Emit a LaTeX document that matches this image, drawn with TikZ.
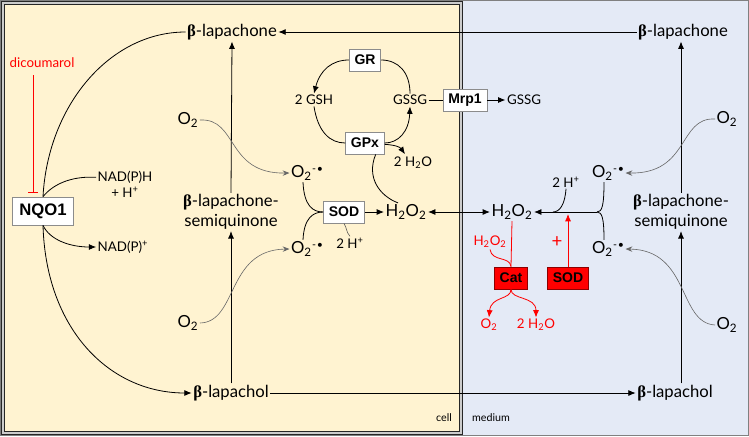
\documentclass[tikz,border=0pt]{standalone}
\usepackage{fontspec}
\setmainfont{Lato}
\newfontfamily\boxfont{Liberation Sans}
\newfontfamily\grk{Liberation Serif}
\usetikzlibrary{arrows.meta}
\newcommand\B{{\grk\bfseries β}}
\newcommand\Otw{O\textsubscript{2}}
\newcommand\Orad{O\textsubscript{2}\kern0.3pt\raisebox{0.55ex}{\fontsize{8}{9}\selectfont -\kern0.5pt\textbullet}}
\newcommand\Hperox{H\textsubscript{2}O\textsubscript{2}}
\definecolor{cellfill}{HTML}{FFF3D1}
\definecolor{medfill}{HTML}{E4EAF6}
\begin{document}
\begin{tikzpicture}[x=0.75pt,y=-0.75pt,
 lbl/.style={font=\fontsize{12.5}{15}\selectfont, inner sep=1pt},
 sm/.style={font=\fontsize{10}{12}\selectfont, inner sep=1pt},
 tiny/.style={font=\fontsize{8}{10}\selectfont, inner sep=1pt},
 enz/.style={draw=black!45, line width=0.6pt, fill=white, font=\boxfont\bfseries\fontsize{10.5}{12}\selectfont, inner xsep=4pt, inner ysep=1pt, minimum height=16.5pt},
 redenz/.style={enz, draw=red!55!black, fill=red},
 ln/.style={line width=0.6pt},
 arr/.style={ln, -{Latex[length=5.5pt,width=4.5pt]}},
 dbl/.style={ln, {Latex[length=5.5pt,width=4.5pt]}-{Latex[length=5.5pt,width=4.5pt]}},
 oxy/.style={draw=black!60, line width=0.45pt, -{Stealth[length=5pt,width=4pt]}},
 rd/.style={draw=red, line width=0.6pt},
 rarr/.style={rd, -{Latex[length=5.5pt,width=4.5pt]}}
]
\useasboundingbox (0,0) rectangle (749,436);
% backgrounds
\fill[medfill] (0,0) rectangle (749,436);
\draw[black!50, line width=1.1pt] (0.7,0.7) rectangle (748.3,435.3);
\fill[cellfill] (3,3) rectangle (461,433);
\draw[black!85, line width=0.8pt, double=white!80!black, double distance=0.9pt] (3,3) rectangle (461,433);
\node[tiny] (cell) at (444,418) {cell};
\node[tiny] (medium) at (491,418) {medium};

% main compounds
\node[lbl] (lapC) at (232,32) {\B-lapachone};
\node[lbl] (lapM) at (683,32) {\B-lapachone};
\node[lbl, align=center] (semiC) at (231,212) {\B-lapachone-\\semiquinone};
\node[lbl, align=center] (semiM) at (681,212) {\B-lapachone-\\semiquinone};
\node[lbl] (lolC) at (231,393) {\B-lapachol};
\node[lbl] (lolM) at (675,393) {\B-lapachol};

\draw[arr] (lapM.west) -- (lapC.east);
\draw[arr] (lolC.east) -- (lolM.west);
\draw[arr] (semiC.north) -- (lapC.south);
\draw[arr] (lolC.north) -- (semiC.south);
\draw[arr] (lolM.north -| semiM.south) -- (semiM.south);
\draw[arr] (semiM.north) -- (lapM.south -| semiM.north);

% oxygen
\node[lbl] (o2a) at (188,120) {\Otw};
\node[lbl] (o2b) at (188,323) {\Otw};
\node[lbl] (o2c) at (727,119) {\Otw};
\node[lbl] (o2d) at (727,325) {\Otw};
\node[lbl] (supA) at (307,173) {\Orad};
\node[lbl] (supB) at (307,249) {\Orad};
\node[lbl] (supC) at (608,173) {\Orad};
\node[lbl] (supD) at (608,249) {\Orad};

\draw[oxy] (o2a.east) .. controls (238,118) and (226,174) .. (supA.west);
\draw[oxy] (o2b.east) .. controls (238,322) and (226,250) .. (supB.west);
\draw[oxy] (o2c.west) .. controls (678,117) and (690,174) .. (supC.east);
\draw[oxy] (o2d.west) .. controls (678,323) and (690,250) .. (supD.east);

% SOD in cell
\node[enz] (sod) at (344,212) {SOD};
\node[lbl] (h2oC) at (406,212) {\Hperox};
\node[sm] (hpC) at (350,243) {2 H\textsuperscript{+}};
\draw[ln] ([xshift=-3pt]supA.south) .. controls (304,206) and (313,212) .. (sod.west);
\draw[ln] ([xshift=-3pt]supB.north) .. controls (304,218) and (313,212) .. (sod.west);
\draw[arr] (sod.east) -- (h2oC.west);
\draw[line width=0.4pt, black!70] (sod.south) .. controls (347,228) and (346,232) .. (hpC.north);

% glutathione cycle
\node[enz] (gr) at (365,60) {GR};
\node[enz] (gpx) at (365,143) {GPx};
\node[sm] (gsh) at (314,100) {2 GSH};
\node[sm] (gssg) at (410,100) {GSSG};
\node[sm] (h2o) at (413,163) {2 H\textsubscript{2}O};
\node[enz] (mrp) at (465,100) {Mrp1};
\node[sm] (gssgM) at (524,100) {GSSG};

\draw[arr] (gr.west) .. controls (332,60) and (320,70) .. (gsh.north);
\draw[ln] (gssg.north) .. controls (410,72) and (398,60) .. (gr.east);
\draw[ln] (gsh.south) .. controls (318,132) and (330,143) .. (gpx.west);
\draw[arr] (gpx.east) .. controls (398,143) and (409,132) .. (gssg.south);
\draw[arr] ([yshift=-1pt]gpx.east) .. controls (395,145) and (400,147) .. ([xshift=-6pt,yshift=1pt]h2o.north);
\draw[ln] ([xshift=8pt]gpx.south) .. controls (366,178) and (380,196) .. ([xshift=-6pt]h2oC.north);
\draw[ln] (gssg.east) -- (mrp.west);
\draw[arr] (mrp.east) -- (gssgM.west);

% transfer of H2O2
\node[lbl] (h2oM) at (512,212) {\Hperox};
\draw[dbl] (h2oC.east) -- (h2oM.west);

% medium superoxide dismutation
\coordinate (J) at (597,212);
\node[sm] (hpM) at (566,182) {2 H\textsuperscript{+}};
\draw[ln] ([xshift=-3pt]supC.south) .. controls (604,206) and (602,212) .. (J);
\draw[ln] ([xshift=-3pt]supD.north) .. controls (604,218) and (602,212) .. (J);
\draw[arr] (J) -- (h2oM.east);
\draw[ln] (hpM.south) .. controls (565,204) and (560,212) .. (553,212);

% catalase & SOD (red)
\node[redenz] (cat) at (511,278) {Cat};
\node[redenz] (sodM) at (568,278) {SOD};
\node[sm, text=red] (h2oR) at (490,242) {\Hperox};
\node[sm, text=red] (o2R) at (489,325) {\Otw};
\node[sm, text=red] (h2oR2) at (536,325) {2 H\textsubscript{2}O};
\node[font=\fontsize{14}{15}\selectfont, text=red, inner sep=0pt] (plus) at (557,242) {+};
\draw[rd] (h2oM.south) -- (cat.north);
\draw[rd] (h2oR.south) .. controls (492,262) and (510,256) .. (cat.north);
\draw[rarr] (cat.south) .. controls (511,300) and (491,296) .. (o2R.north);
\draw[rarr] (cat.south) .. controls (511,300) and (536,296) .. (h2oR2.north);
\coordinate (sodTip) at (568,214);
\draw[rarr] (sodM.north) -- (sodTip);

% NQO1
\node[enz, font=\boxfont\bfseries\fontsize{12.5}{14}\selectfont, minimum height=21pt, inner xsep=5pt] (nqo) at (43,211) {NQO1};
\node[sm, text=red] (dic) at (42,63) {dicoumarol};
\node[sm, align=center] (nadh) at (125,184) {NAD(P)H\\+ H\textsuperscript{+}};
\node[sm] (nadp) at (123,247) {NAD(P)\textsuperscript{+}};
\coordinate (dtop) at (33,75);
\coordinate (dbot) at (33,193);
\draw[rd, -{Bar[width=7pt]}] (dtop) -- (dbot);
\draw[ln] (nqo.north) .. controls (48,105) and (110,32) .. (lapC.west);
\draw[ln] (nqo.north) .. controls (55,182) and (75,176) .. ([yshift=-1pt]nadh.west |- 0,176);
\draw[arr] (nqo.south) .. controls (50,240) and (70,247) .. (nadp.west);
\draw[arr] (nqo.south) .. controls (46,330) and (110,393) .. (lolC.west);
\end{tikzpicture}
\end{document}
